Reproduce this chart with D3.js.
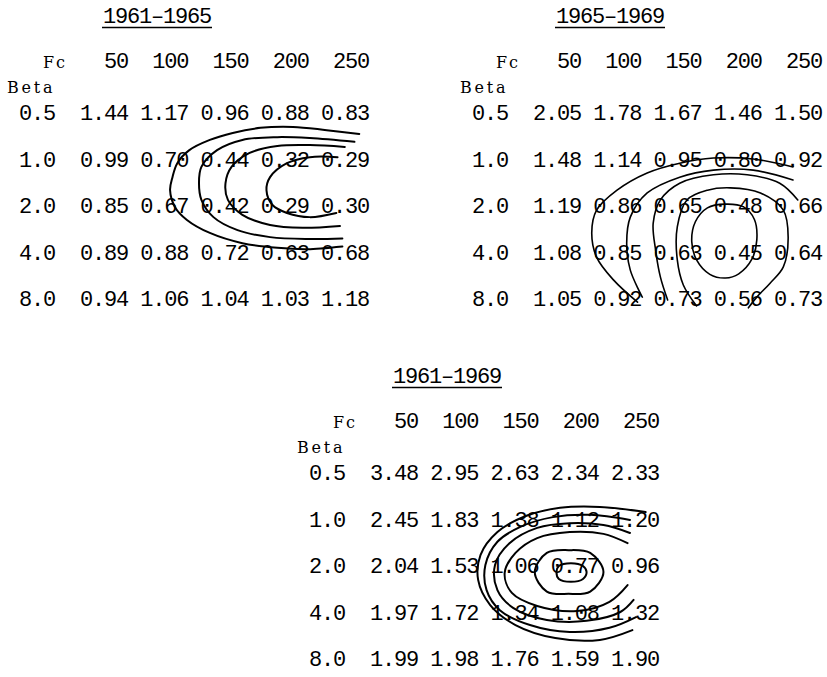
<!DOCTYPE html>
<html>
<head>
<meta charset="utf-8">
<script src="https://cdn.jsdelivr.net/npm/d3@7"></script>
<style>
  body { margin: 0; background: #fff; }
  svg { display: block; }
</style>
</head>
<body>
<svg id="chart"></svg>
<script>
// column and row headings
var fcValues = [50, 100, 150, 200, 250]
var betaLabels = ["0.5", "1.0", "2.0", "4.0", "8.0"]
var titles = ["1961\u20131965", "1965\u20131969", "1961\u20131969"]

// table values, one row per beta
var values6165 = [
    [1.44, 1.17, 0.96, 0.88, 0.83],
    [0.99, 0.70, 0.44, 0.32, 0.29],
    [0.85, 0.67, 0.42, 0.29, 0.30],
    [0.89, 0.88, 0.72, 0.63, 0.68],
    [0.94, 1.06, 1.04, 1.03, 1.18]
]
var values6569 = [
    [2.05, 1.78, 1.67, 1.46, 1.50],
    [1.48, 1.14, 0.95, 0.80, 0.92],
    [1.19, 0.86, 0.65, 0.48, 0.66],
    [1.08, 0.85, 0.63, 0.45, 0.64],
    [1.05, 0.92, 0.73, 0.56, 0.73]
]
var values6169 = [
    [3.48, 2.95, 2.63, 2.34, 2.33],
    [2.45, 1.83, 1.38, 1.12, 1.20],
    [2.04, 1.53, 1.06, 0.77, 0.96],
    [1.97, 1.72, 1.34, 1.08, 1.32],
    [1.99, 1.98, 1.76, 1.59, 1.90]
]

// hand drawn contours, points are [Fc, beta row index]
var contours6165 = [
    { closed: false, pts: [[261, 0.46], [234, 0.38], [206, 0.31], [179, 0.33], [156, 0.44], [137, 0.59], [120, 0.81], [110, 1.09], [106, 1.39], [104, 1.67], [108, 2.03], [118, 2.31], [137, 2.59], [164, 2.81], [193, 2.91], [218, 2.94], [247, 2.88]] },
    { closed: false, pts: [[257, 0.63], [220, 0.55], [193, 0.53], [164, 0.59], [143, 0.81], [130, 1.17], [128, 1.52], [130, 1.88], [140, 2.25], [160, 2.53], [187, 2.68], [220, 2.72], [247, 2.71]] },
    { closed: false, pts: [[249, 0.74], [220, 0.70], [193, 0.72], [170, 0.87], [155, 1.17], [150, 1.52], [152, 1.88], [164, 2.20], [187, 2.42], [214, 2.48], [245, 2.44]] },
    { closed: false, pts: [[243, 0.96], [220, 0.96], [201, 1.09], [187, 1.39], [184, 1.67], [189, 1.99], [201, 2.16], [220, 2.25], [242, 2.16]] }
]
var contours6569 = [
    { closed: false, pts: [[245, 1.17], [212, 1.0], [179, 0.98], [151, 1.09], [124, 1.30], [99, 1.67], [82, 2.10], [78, 2.59], [82, 3.11], [96, 3.60], [116, 4.08]] },
    { closed: false, pts: [[245, 1.45], [212, 1.24], [179, 1.24], [151, 1.39], [124, 1.73], [110, 2.25], [107, 2.81], [110, 3.39], [120, 3.97]] },
    { closed: false, pts: [[249, 1.88], [234, 1.52], [207, 1.34], [179, 1.34], [151, 1.52], [135, 1.88], [129, 2.38], [131, 2.96], [135, 3.54], [141, 4.03]] },
    { closed: false, pts: [[165, 4.16], [154, 3.71], [149, 3.17], [149, 2.46], [157, 1.88], [174, 1.67], [193, 1.62], [218, 1.73], [237, 2.10], [241, 2.68], [237, 3.32], [226, 3.67], [215, 3.97], [208, 4.20]] },
    { closed: true, pts: [[189, 1.97], [204, 2.03], [213, 2.30], [215, 2.74], [211, 3.15], [200, 3.47], [189, 3.56], [176, 3.48], [165, 3.17], [161, 2.78], [164, 2.35], [174, 2.05]] }
]
var contours6169 = [
    { closed: false, pts: [[258, 0.85], [220, 0.74], [187, 0.76], [158, 0.94], [135, 1.28], [121, 1.77], [119, 2.31], [129, 2.85], [150, 3.28], [183, 3.56], [220, 3.60], [247, 3.39]] },
    { closed: false, pts: [[245, 1.02], [212, 0.91], [181, 0.96], [154, 1.17], [135, 1.49], [125, 1.99], [126, 2.53], [137, 2.96], [162, 3.28], [195, 3.43], [228, 3.34], [250, 3.11]] },
    { closed: false, pts: [[245, 1.30], [223, 1.13], [195, 1.09], [168, 1.19], [145, 1.52], [133, 1.99], [135, 2.53], [148, 2.91], [176, 3.17], [209, 3.19], [237, 3.0], [248, 2.74]] },
    { closed: false, pts: [[243, 1.52], [223, 1.32], [195, 1.28], [168, 1.41], [150, 1.73], [141, 2.16], [147, 2.59], [168, 2.87], [201, 2.98], [228, 2.78], [243, 2.42]] },
    { closed: true, pts: [[194, 1.67], [212, 1.73], [223, 2.14], [212, 2.56], [194, 2.61], [176, 2.56], [166, 2.14], [176, 1.73]] },
    { closed: true, pts: [[196, 1.95], [206, 2.01], [209, 2.14], [206, 2.29], [196, 2.35], [186, 2.29], [184, 2.14], [186, 2.01]] }
]

var dimensions = { width: 827, height: 677 }

var svg = d3.select("#chart")
    .attr("width", dimensions.width)
    .attr("height", dimensions.height)

var panels = [
    { title: titles[0], values: values6165, contours: contours6165, dx: 0, dy: 0, stroke: 2 },
    { title: titles[1], values: values6569, contours: contours6569, dx: 453, dy: 0, stroke: 1.6 },
    { title: titles[2], values: values6169, contours: contours6169, dx: 290, dy: 360, stroke: 2 }
]

// same scales in every panel, panel groups get moved
var xScale = d3.scaleLinear().domain([50, 250]).range([105, 346])
var yScale = d3.scaleLinear().domain([0, 4]).range([112.5, 298.5])
var fmt = d3.format(".2f")
var mono = "'Liberation Mono', monospace"
var serif = "'DejaVu Serif', serif"

function typed(sel) {
    return sel.style("font-family", mono)
        .style("font-size", "22px")
        .style("letter-spacing", "-1.2px")
}

panels.forEach(function (p) {
    var g = svg.append("g")
        .attr("transform", `translate(${p.dx},${p.dy})`)

    // title + underline
    typed(g.append("text"))
        .attr("x", 103)
        .attr("y", 23)
        .text(p.title)
    g.append("line")
        .attr("x1", 102).attr("x2", 212)
        .attr("y1", 27.5).attr("y2", 27.5)
        .attr("stroke", "#000")
        .attr("stroke-width", 1.6)

    g.append("text")
        .attr("x", 67)
        .attr("y", 68)
        .attr("text-anchor", "end")
        .style("font-family", serif)
        .style("font-size", "16px")
        .style("letter-spacing", "2px")
        .text("Fc")
    g.append("text")
        .attr("x", 7)
        .attr("y", 93)
        .style("font-family", serif)
        .style("font-size", "16px")
        .style("letter-spacing", "2.8px")
        .text("Beta")

    typed(g.selectAll(".fc")
        .data(fcValues)
        .enter()
        .append("text"))
        .attr("x", d => xScale(d) + 23)
        .attr("y", 68)
        .attr("text-anchor", "end")
        .text(d => d)

    typed(g.selectAll(".beta")
        .data(betaLabels)
        .enter()
        .append("text"))
        .attr("x", 55)
        .attr("y", (d, i) => yScale(i) + 7.5)
        .attr("text-anchor", "end")
        .text(d => d)

    var cells = []
    p.values.forEach(function (row, i) {
        row.forEach(function (v, j) {
            cells.push({ fc: fcValues[j], row: i, v: v })
        })
    })
    typed(g.selectAll(".cell")
        .data(cells)
        .enter()
        .append("text"))
        .attr("x", d => xScale(d.fc) + 23)
        .attr("y", d => yScale(d.row) + 7.5)
        .attr("text-anchor", "end")
        .text(d => fmt(d.v))

    var openLine = d3.line()
        .x(d => xScale(d[0]))
        .y(d => yScale(d[1]))
        .curve(d3.curveCatmullRom)
    var closedLine = d3.line()
        .x(d => xScale(d[0]))
        .y(d => yScale(d[1]))
        .curve(d3.curveCatmullRomClosed)

    g.selectAll(".contour")
        .data(p.contours)
        .enter()
        .append("path")
        .attr("d", d => d.closed ? closedLine(d.pts) : openLine(d.pts))
        .attr("fill", "none")
        .attr("stroke", "#000")
        .attr("stroke-width", p.stroke)
        .attr("stroke-linecap", "round")
})
</script>
</body>
</html>
